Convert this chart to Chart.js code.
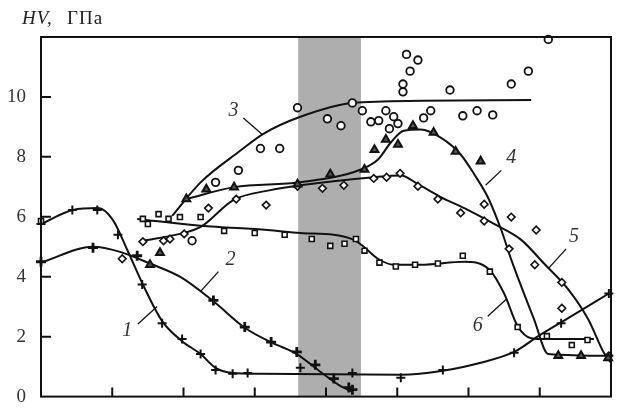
<!DOCTYPE html>
<html>
<head>
<meta charset="utf-8">
<script src="https://cdn.jsdelivr.net/npm/chart.js@4.4.1/dist/chart.umd.min.js"></script>
<style>
  html, body { margin: 0; padding: 0; background: #fff; }
  #wrap { width: 633px; height: 415px; }
</style>
</head>
<body>
<div id="wrap"><canvas id="chart"></canvas></div>
<script>
// ===== 데이터 (x: 0..8 상대단위, y: HV, ГПа) =====
const yTicks = [0, 2, 4, 6, 8, 10];
const xTicks = [1, 2, 3, 4, 5, 6, 7];
const band = [3.61, 4.49]; // 회색 구간

// 곡선 (피팅선)
const curve1 = [[0,5.76],[0.45,6.23],[0.8,6.29],[1.01,5.89],[1.21,4.9],[1.43,3.74],[1.7,2.52],[1.98,1.85],[2.24,1.42],[2.45,0.96],[2.69,0.79],[3.08,0.76],[5.05,0.73],[5.64,0.86],[6.17,1.13],[6.64,1.49],[6.98,2.02],[7.3,2.48],[7.97,3.44]];
const curve2 = [[0,4.47],[0.73,5.0],[1.11,4.83],[1.53,4.44],[1.95,4.0],[2.42,3.18],[2.87,2.28],[3.25,1.79],[3.59,1.42],[3.92,0.83],[4.2,0.36],[4.37,0.17]];
const curve3 = [[1.84,6.03],[2.24,7.15],[2.8,8.21],[3.12,8.77],[3.64,9.34],[4.37,9.8],[5.33,9.87],[6.88,9.9]];
const curve4 = [[2.04,6.59],[2.71,6.99],[3.64,7.15],[4.49,7.58],[4.73,7.91],[4.91,8.48],[5.09,8.87],[5.33,8.91],[5.61,8.64],[5.89,8.08],[6.08,7.42],[6.27,6.66],[6.46,5.56],[6.6,4.57],[6.92,2.58],[7.12,1.42],[8.0,1.36]];
const curve5 = [[1.42,5.2],[1.95,5.43],[2.24,5.66],[2.7,6.56],[3.22,6.89],[3.64,7.05],[4.67,7.32],[5.05,7.38],[5.29,7.09],[5.61,6.66],[5.99,6.23],[6.36,5.76],[6.74,5.23],[7.06,4.44],[7.4,3.58],[7.68,2.58],[7.9,1.46],[8.0,1.13]];
const curve6 = [[1.35,5.93],[2.24,5.7],[3.18,5.56],[3.64,5.46],[4.11,5.4],[4.39,5.23],[4.53,5.0],[4.73,4.6],[4.95,4.4],[5.33,4.4],[5.94,4.5],[6.29,4.24],[6.5,3.44],[6.69,2.35],[6.88,1.95],[7.09,1.92],[7.76,1.92]];

// 측정점
const pts1 = [[0,5.76],[0.44,6.23],[0.79,6.23],[1.08,5.4],[1.42,3.74],[1.7,2.45],[1.98,1.92],[2.24,1.42],[2.45,0.89],[2.69,0.76],[2.9,0.79],[3.64,0.96],[4.37,0.79],[5.05,0.63],[5.64,0.89],[6.64,1.46],[7.3,2.45],[7.97,3.44]];
const pts2 = [[0,4.5],[0.73,4.97],[1.35,4.7],[2.42,3.21],[2.86,2.32],[3.23,1.82],[3.59,1.49],[3.85,1.06],[4.11,0.6],[4.32,0.3],[4.37,0.23]];
const pts3 = [[2.12,5.2],[2.45,7.15],[2.77,7.55],[3.08,8.28],[3.35,8.28],[3.6,9.64],[4.02,9.27],[4.21,9.04],[4.37,9.8],[4.51,9.54],[4.63,9.17],[4.74,9.21],[4.84,9.54],[4.95,9.34],[5.01,9.11],[4.89,8.94],[5.08,10.17],[5.08,10.43],[5.18,10.86],[5.13,11.42],[5.29,11.23],[5.37,9.3],[5.47,9.54],[5.74,10.23],[5.92,9.37],[6.12,9.54],[6.34,9.4],[6.6,10.43],[6.84,10.86],[7.12,11.92]];
const pts4 = [[1.53,4.4],[1.67,4.8],[2.04,6.59],[2.32,6.92],[2.71,6.99],[3.6,7.09],[4.06,7.42],[4.54,7.58],[4.68,8.24],[4.84,8.58],[5.01,8.41],[5.22,9.04],[5.51,8.81],[5.82,8.18],[6.17,7.85],[7.26,1.36],[7.58,1.36],[7.96,1.29]];
const pts5 = [[1.14,4.6],[1.43,5.17],[1.72,5.2],[1.81,5.26],[2.01,5.43],[2.35,6.29],[2.74,6.59],[3.16,6.39],[3.6,7.02],[3.95,6.95],[4.25,7.05],[4.67,7.28],[4.85,7.32],[5.04,7.45],[5.29,7.02],[5.57,6.59],[5.89,6.13],[6.22,5.86],[6.22,6.42],[6.6,5.99],[6.95,5.56],[6.57,4.93],[6.93,4.4],[7.31,3.81],[7.31,2.95],[7.97,1.36]];
const pts6 = [[0,5.86],[1.43,5.93],[1.5,5.76],[1.65,6.09],[1.79,5.93],[1.95,5.99],[2.24,5.99],[2.57,5.53],[3.0,5.46],[3.42,5.4],[3.8,5.26],[4.06,5.03],[4.26,5.1],[4.42,5.26],[4.54,4.87],[4.75,4.47],[4.98,4.34],[5.25,4.4],[5.57,4.44],[5.92,4.7],[6.3,4.17],[6.69,2.32],[7.1,2.02],[7.45,1.72],[7.67,1.89]];

// 곡선 번호: 텍스트 위치, 지시선 시작/끝 (데이터 좌표)
const curveLabels = ["1", "2", "3", "4", "5", "6"];
const labelPos = [[1.21,2.19],[2.66,4.57],[2.7,9.54],[6.6,7.98],[7.48,5.33],[6.13,2.35]];
const leaderFrom = [[1.36,2.42],[2.49,4.17],[2.84,9.3],[6.46,7.55],[7.37,4.93],[6.27,2.68]];
const leaderTo = [[1.63,3.01],[2.24,3.51],[3.11,8.74],[6.24,7.05],[7.12,4.27],[6.53,3.25]];

const xy = arr => arr.map(([x, y]) => ({ x, y }));
const SERIF = "'Liberation Serif', 'DejaVu Serif', serif";

const lineSet = d => ({
  type: "line", data: xy(d), borderColor: "#111", borderWidth: 2,
  pointRadius: 0, cubicInterpolationMode: "monotone", fill: false, order: 2
});
const markSet = (d, style, r, w, bg = "#fff") => ({
  type: "scatter", data: xy(d), pointStyle: style, pointRadius: r,
  pointBorderColor: "#111", pointBackgroundColor: bg, pointBorderWidth: w,
  clip: false, order: 1
});

/* ===== 플러그인: 회색 구간, 테두리, 안쪽 눈금, 라벨 ===== */
const decor = {
  id: "decor",
  beforeDatasetsDraw(chart) {
    const { ctx, chartArea: a, scales: { x } } = chart;
    ctx.save();
    ctx.fillStyle = "#aeaeae";
    const x0 = x.getPixelForValue(band[0]), x1 = x.getPixelForValue(band[1]);
    ctx.fillRect(x0, a.top, x1 - x0, a.bottom - a.top);
    ctx.restore();
  },
  afterDraw(chart) {
    const { ctx, chartArea: a, scales: { x, y } } = chart;
    ctx.save();
    ctx.strokeStyle = "#111";
    ctx.lineWidth = 2;
    ctx.strokeRect(a.left, a.top, a.right - a.left, a.bottom - a.top);
    ctx.beginPath();
    yTicks.filter(v => v > 0).forEach(v => {
      const py = y.getPixelForValue(v);
      ctx.moveTo(a.left, py); ctx.lineTo(a.left + 10, py);
    });
    xTicks.forEach(v => {
      const px = x.getPixelForValue(v);
      ctx.moveTo(px, a.bottom); ctx.lineTo(px, a.bottom - 9);
    });
    ctx.stroke();

    // 지시선
    ctx.lineWidth = 1.3;
    ctx.beginPath();
    leaderFrom.forEach((p, i) => {
      ctx.moveTo(x.getPixelForValue(p[0]), y.getPixelForValue(p[1]));
      ctx.lineTo(x.getPixelForValue(leaderTo[i][0]), y.getPixelForValue(leaderTo[i][1]));
    });
    ctx.stroke();

    ctx.fillStyle = "#333";
    ctx.font = "italic 20px " + SERIF;
    ctx.textAlign = "center";
    ctx.textBaseline = "middle";
    curveLabels.forEach((t, i) => {
      ctx.fillText(t, x.getPixelForValue(labelPos[i][0]), y.getPixelForValue(labelPos[i][1]));
    });

    // 축 제목
    ctx.textAlign = "left";
    ctx.textBaseline = "alphabetic";
    ctx.fillStyle = "#222";
    ctx.letterSpacing = "1px";
    ctx.font = "italic 19px " + SERIF;
    ctx.fillText("HV,", 22, 24);
    ctx.font = "19px " + SERIF;
    ctx.fillText("ГПа", 67, 24);
    ctx.restore();
  }
};

new Chart(document.getElementById("chart"), {
  data: {
    datasets: [
      lineSet(curve1), lineSet(curve2), lineSet(curve3),
      lineSet(curve4), lineSet(curve5), lineSet(curve6),
      markSet(pts1, "cross", 4.5, 2),
      markSet(pts2, "cross", 5, 2.8),
      markSet(pts3, "circle", 3.8, 1.8),
      markSet(pts4, "triangle", 4.5, 2, "#555"),
      markSet(pts5, "rectRot", 3.8, 1.6),
      markSet(pts6, "rect", 3.5, 1.6),
    ]
  },
  options: {
    responsive: true, maintainAspectRatio: false, animation: false,
    layout: { padding: { top: 37, right: 22, left: 0, bottom: 0 } },
    plugins: { legend: { display: false }, tooltip: { enabled: false } },
    scales: {
      x: {
        type: "linear", min: 0, max: 8,
        grid: { display: false }, border: { display: false },
        ticks: { display: false },
        afterFit: s => { s.height = 14; }
      },
      y: {
        type: "linear", min: 0, max: 12,
        grid: { display: false }, border: { display: false },
        afterBuildTicks: s => { s.ticks = yTicks.map(v => ({ value: v })); },
        afterFit: s => { s.width = 41; },
        ticks: { padding: 7, color: "#333", font: { family: SERIF, size: 19 } }
      }
    }
  },
  plugins: [decor]
});
</script>
</body>
</html>
